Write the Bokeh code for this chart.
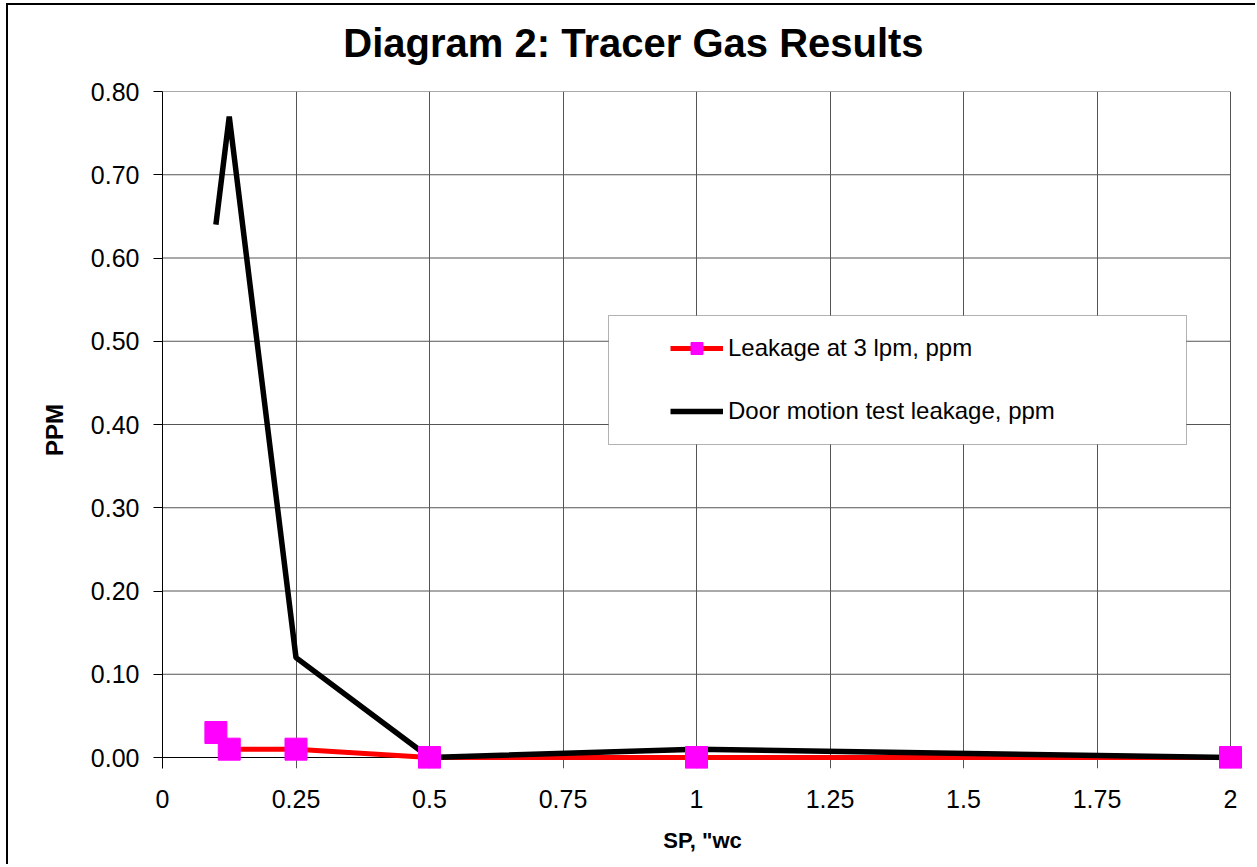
from bokeh.plotting import figure
from bokeh.models import (FixedTicker, NumeralTickFormatter, Legend, LegendItem,
                          BoxAnnotation, Range1d, LinearAxis)
from bokeh.embed import file_html
from bokeh.resources import INLINE

# ---- data ----
sp_wc = [0.1, 0.125, 0.25, 0.5, 1.0, 2.0]
leak_3lpm = [0.03, 0.01, 0.01, 0.0, 0.0, 0.0]
door_motion = [0.64, 0.77, 0.12, 0.0, 0.01, 0.0]
x_ticks = [0, 0.25, 0.5, 0.75, 1, 1.25, 1.5, 1.75, 2]
y_ticks = [0.0, 0.1, 0.2, 0.3, 0.4, 0.5, 0.6, 0.7, 0.8]
series_names = ["Leakage at 3 lpm, ppm", "Door motion test leakage, ppm"]
title_text = "Diagram 2: Tracer Gas Results"
x_title = 'SP, "wc'
y_title = "PPM"

FONT = "Liberation Sans"
GRID = "#555555"

# ---- layout (page pixels) ----
PAGE_W, PAGE_H = 1257, 867
OX, OY = 8, 5                        # chart border position on the page
F_LEFT, F_TOP = 162, 91
X_END_PX, Y_ZERO_PX = 1230, 757      # where x=2 and y=0 sit
PAD_R, PAD_B = 12, 11                # room so end markers are not clipped
F_RIGHT = X_END_PX + PAD_R
F_BOTTOM = Y_ZERO_PX + PAD_B
x_scale = (X_END_PX - F_LEFT) / (x_ticks[-1] - x_ticks[0])
y_scale = (Y_ZERO_PX - F_TOP) / (y_ticks[-1] - y_ticks[0])
TITLE_CX, TITLE_BOTTOM = 633, 64     # title centre x and text-box bottom y

p = figure(width=PAGE_W - OX, height=PAGE_H - OY - 1,
           output_backend="svg", toolbar_location=None,
           x_range=Range1d(x_ticks[0], x_ticks[-1] + PAD_R / x_scale),
           y_range=Range1d(y_ticks[0] - PAD_B / y_scale, y_ticks[-1]),
           min_border_left=F_LEFT - OX, min_border_right=PAGE_W - F_RIGHT,
           min_border_top=F_TOP - OY, min_border_bottom=PAGE_H - 1 - F_BOTTOM,
           styles={"position": "relative", "left": f"{OX - 2}px", "top": f"{OY - 2}px",
                   "border-left": "2px solid black", "border-top": "2px solid black"})

p.outline_line_color = None
p.background_fill_color = "white"
p.border_fill_color = "white"

xax = p.below[0]
yax = p.left[0]

for ax in (xax, yax):
    ax.axis_line_color = "black"
    ax.axis_line_width = 1
    ax.major_tick_line_color = "black"
    ax.major_tick_out = 9
    ax.major_tick_in = 0
    ax.minor_tick_line_color = None
    ax.major_label_text_font = FONT
    ax.major_label_text_font_size = "25px"
    ax.major_label_text_color = "black"
    ax.axis_label_text_font = FONT
    ax.axis_label_text_font_style = "bold"
    ax.axis_label_text_color = "black"

# x axis: line and ticks are drawn by the y=0 grid line and the vertical grid
xax.axis_line_color = None
xax.major_tick_line_color = None
xax.major_tick_out = 0
xax.major_label_standoff = 21
xax.axis_label_standoff = 17
xax.axis_label_text_font_size = "22px"
yax.axis_label_text_font_size = "24px"
yax.major_label_standoff = 14
yax.axis_label_standoff = 20

xax.ticker = FixedTicker(ticks=x_ticks)
yax.ticker = FixedTicker(ticks=y_ticks)
xax.formatter = NumeralTickFormatter(format="0.[00]")
yax.formatter = NumeralTickFormatter(format="0.00")
xax.axis_label = x_title
yax.axis_label = y_title

# chart title, drawn as the single label of a bare axis above the plot
title_pos = round((TITLE_CX - F_LEFT) / x_scale, 3)
title_axis = LinearAxis(ticker=FixedTicker(ticks=[title_pos]),
                        major_label_overrides={title_pos: title_text},
                        axis_line_color=None, major_tick_line_color=None,
                        minor_tick_line_color=None, major_tick_out=0,
                        major_tick_in=0, minor_tick_out=0, minor_tick_in=0,
                        major_label_standoff=F_TOP - TITLE_BOTTOM,
                        major_label_text_font=FONT,
                        major_label_text_font_size="40px",
                        major_label_text_font_style="bold",
                        major_label_text_color="black")
p.add_layout(title_axis, "above")

p.xgrid.grid_line_color = GRID
p.xgrid.grid_line_width = 1
p.ygrid.grid_line_color = None
# horizontal grid lines (and the x axis line at 0) bounded to the x extent
p.segment(x0=[x_ticks[0]] * len(y_ticks), x1=[x_ticks[-1]] * len(y_ticks),
          y0=y_ticks, y1=y_ticks,
          line_color=["black" if v == 0 else GRID for v in y_ticks],
          line_width=1, level="underlay")

r_red = p.line(sp_wc, leak_3lpm, line_color="#FF0000", line_width=5)
r_blk = p.line(sp_wc, door_motion, line_color="black", line_width=5.5)
r_sq = p.scatter(sp_wc, leak_3lpm, marker="square", size=22,
                 fill_color="#FF00FF", line_color="#FF00FF")

# legend box (screen units relative to frame bottom-left)
LEG_L, LEG_R, LEG_T, LEG_B = 608, 1186, 315, 444
box = BoxAnnotation(left=LEG_L - F_LEFT, right=LEG_R - F_LEFT,
                    bottom=F_BOTTOM - LEG_B, top=F_BOTTOM - LEG_T,
                    left_units="screen", right_units="screen",
                    bottom_units="screen", top_units="screen",
                    fill_color="white", fill_alpha=1.0,
                    line_color="black", line_width=1, level="annotation")
p.add_layout(box)

legend = Legend(items=[LegendItem(label=series_names[0], renderers=[r_red, r_sq]),
                       LegendItem(label=series_names[1], renderers=[r_blk])],
                location=(LEG_L - F_LEFT + 44, F_BOTTOM - LEG_B), margin=0,
                padding=18, spacing=33,
                glyph_width=53, glyph_height=30, label_height=30,
                label_standoff=5, border_line_alpha=0,
                background_fill_alpha=0,
                label_text_font=FONT, label_text_font_size="24px",
                label_text_color="black")
p.add_layout(legend, "center")

open("out.html", "w").write(file_html(p, INLINE))
